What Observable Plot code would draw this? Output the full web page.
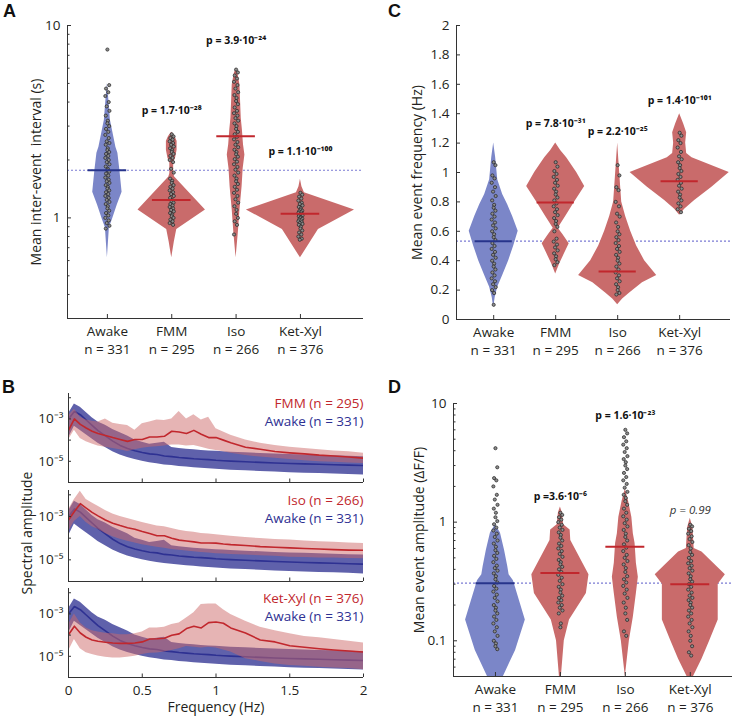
<!DOCTYPE html>
<html>
<head>
<meta charset="utf-8">
<script src="https://cdn.jsdelivr.net/npm/d3@7"></script>
<script src="https://cdn.jsdelivr.net/npm/@observablehq/plot@0.6"></script>
<style>
  body { margin: 0; background: #fff; }
  #fig { position: relative; width: 733px; height: 716px; background: #fff; overflow: hidden; }
  #fig svg { position: absolute; }
  .letter { position: absolute; font: bold 18px 'Liberation Sans', Arial, sans-serif; color: #111; line-height: 18px; }
</style>
</head>
<body>
<div id="fig">
  <div class="letter" style="left:3px;top:2px">A</div>
  <div class="letter" style="left:388px;top:2px">C</div>
  <div class="letter" style="left:2px;top:378px">B</div>
  <div class="letter" style="left:388px;top:378px">D</div>
</div>
<script>
// ---------------- shared categories ----------------
const categories = ["Awake", "FMM", "Iso", "Ket-Xyl"];
const groupSizes = [331, 295, 266, 376];

// ---------------- Panel A: mean inter-event interval (s) ----------------
// violin outlines: [value, half-width in category units]
const intervalShapeAwake = [[5.0,0],[4.09,0.023],[3.22,0.047],[2.33,0.132],[2.17,0.163],[1.77,0.194],[1.36,0.228],[1.17,0.155],[0.98,0.078],[0.89,0.031],[0.62,0]];
const intervalShapeFMM = [[2.79,0],[2.65,0.05],[2.5,0.083],[2.25,0.083],[2.05,0.06],[1.93,0.03],[1.7,0.03],[1.63,0.045],[1.10,0.524],[0.87,0.078],[0.75,0.04],[0.62,0]];
const intervalShapeIso = [[5.98,0],[5.6,0.03],[4.9,0.06],[4.0,0.07],[3.3,0.08],[2.86,0.098],[2.4,0.115],[2.12,0.137],[1.8,0.11],[1.45,0.093],[1.1,0.06],[0.84,0.035],[0.62,0]];
const intervalShapeKet = [[1.59,0],[1.45,0.023],[1.35,0.062],[1.10,0.84],[0.87,0.28],[0.62,0]];
const intervalDotsAwake = [7.5,4.9,4.7,4.5,4.3,4.0,3.8,3.6,3.4,3.2,3.1,3.0,2.9,2.8,2.7,2.6,2.5,2.45,2.4,2.3,2.25,2.2,2.15,2.1,2.05,2.0,1.95,1.9,1.85,1.8,1.77,1.74,1.7,1.66,1.62,1.58,1.55,1.52,1.48,1.45,1.42,1.39,1.36,1.33,1.3,1.27,1.24,1.21,1.18,1.15,1.12,1.09,1.06,1.03,1.0,0.97,0.94,0.91,0.88];
const intervalDotsFMM = [2.72,2.65,2.6,2.55,2.5,2.45,2.4,2.35,2.3,2.25,2.2,2.15,2.1,2.05,2.0,1.95,1.8,1.72,1.6,1.56,1.52,1.48,1.45,1.42,1.39,1.36,1.33,1.3,1.27,1.24,1.22,1.2,1.18,1.16,1.14,1.12,1.1,1.08,1.06,1.04,1.02,1.0,0.98,0.96,0.94,0.92];
const intervalDotsIso = [5.9,5.7,5.5,5.3,5.1,4.9,4.7,4.5,4.35,4.2,4.05,3.9,3.75,3.6,3.5,3.4,3.3,3.2,3.1,3.0,2.9,2.8,2.72,2.64,2.56,2.48,2.4,2.33,2.26,2.2,2.14,2.08,2.02,1.96,1.9,1.84,1.78,1.72,1.66,1.6,1.55,1.5,1.45,1.4,1.35,1.3,1.25,1.2,1.15,1.1,1.05,1.0,0.96,0.92,0.82];
const intervalDotsKet = [1.35,1.32,1.29,1.26,1.23,1.2,1.18,1.16,1.14,1.12,1.1,1.09,1.08,1.07,1.06,1.05,1.04,1.03,1.02,1.01,1.0,0.99,0.98,0.97,0.96,0.95,0.94,0.93,0.92,0.9,0.88,0.86,0.84,0.82,0.8,0.78,0.77];
const intervalMedians = [1.77, 1.24, 2.66, 1.05];
const intervalReference = 1.77;
const intervalPValues = ["", "p = 1.7·10⁻²⁸", "p = 3.9·10⁻²⁴", "p = 1.1·10⁻¹⁰⁰"];
const intervalPValueY = [null, 3.63, 8.36, 2.22];
const intervalTicks = [1, 10];
const intervalMinorTicks = [0.3,0.4,0.5,0.6,0.7,0.8,0.9,2,3,4,5,6,7,8,9];

// ---------------- Panel C: mean event frequency (Hz) ----------------
const freqShapeAwake = [[1.2,0],[1.1,0.032],[0.95,0.065],[0.85,0.145],[0.78,0.226],[0.7,0.306],[0.6,0.395],[0.5,0.323],[0.4,0.242],[0.3,0.145],[0.22,0.065],[0.15,0.024],[0.08,0]];
const freqShapeFMM = [[1.2,0],[1.15,0.08],[1.1,0.177],[1.0,0.339],[0.905,0.468],[0.8,0.306],[0.7,0.161],[0.62,0.04],[0.58,0.113],[0.515,0.218],[0.45,0.145],[0.38,0.065],[0.31,0]];
const freqShapeIso = [[1.2,0],[1.0,0.032],[0.8,0.065],[0.7,0.129],[0.6,0.21],[0.5,0.306],[0.4,0.435],[0.3,0.63],[0.25,0.4],[0.18,0.194],[0.14,0.08],[0.1,0]];
const freqShapeKet = [[1.4,0],[1.33,0.065],[1.27,0.113],[1.2,0.097],[1.13,0.113],[1.1,0.2],[1.0,0.8],[0.9,0.52],[0.81,0.242],[0.75,0.08],[0.71,0]];
const freqDotsAwake = [1.07,1.05,0.98,0.96,0.93,0.9,0.87,0.84,0.81,0.78,0.76,0.74,0.72,0.7,0.68,0.66,0.64,0.62,0.6,0.58,0.56,0.54,0.52,0.5,0.48,0.46,0.44,0.42,0.4,0.38,0.36,0.34,0.32,0.3,0.28,0.26,0.24,0.22,0.2,0.18,0.1];
const freqDotsFMM = [1.07,1.04,1.01,0.99,0.97,0.95,0.93,0.91,0.89,0.87,0.85,0.83,0.81,0.79,0.77,0.75,0.73,0.71,0.69,0.67,0.65,0.63,0.6,0.55,0.53,0.51,0.49,0.47,0.45,0.43,0.41,0.39,0.37];
const freqDotsIso = [1.05,0.98,0.9,0.88,0.8,0.77,0.72,0.7,0.66,0.63,0.6,0.58,0.56,0.54,0.52,0.5,0.48,0.46,0.44,0.42,0.4,0.38,0.36,0.34,0.32,0.3,0.28,0.26,0.24,0.22,0.2,0.18,0.17];
const freqDotsKet = [1.27,1.25,1.22,1.2,1.17,1.14,1.11,1.09,1.07,1.05,1.03,1.01,0.99,0.97,0.95,0.93,0.91,0.89,0.87,0.85,0.83,0.81,0.79,0.77,0.75,0.73];
const freqMedians = [0.533, 0.796, 0.327, 0.94];
const freqReference = 0.533;
const freqPValues = ["", "p = 7.8·10⁻³¹", "p = 2.2·10⁻²⁵", "p = 1.4·10⁻¹⁰¹"];
const freqPValueY = [null, 1.333, 1.28, 1.49];
const freqTicks = [0,0.2,0.4,0.6,0.8,1,1.2,1.4,1.6,1.8,2];

// ---------------- Panel D: mean event amplitude (dF/F) ----------------
const ampShapeAwake = [[0.95,0],[0.81,0.077],[0.58,0.14],[0.42,0.19],[0.36,0.21],[0.32,0.277],[0.15,0.46],[0.083,0.31],[0.05,0.123],[0.035,0]];
const ampShapeFMM = [[1.34,0],[1.2,0.03],[0.95,0.05],[0.86,0.15],[0.7,0.16],[0.36,0.44],[0.25,0.4],[0.15,0.14],[0.1,0.06],[0.05,0.015],[0.04,0]];
const ampShapeIso = [[1.9,0],[1.5,0.05],[1.1,0.1],[0.8,0.123],[0.66,0.15],[0.45,0.17],[0.344,0.2],[0.25,0.17],[0.158,0.123],[0.1,0.062],[0.05,0]];
const ampShapeKet = [[1.08,0],[0.9,0.04],[0.6,0.06],[0.56,0.18],[0.36,0.54],[0.3,0.43],[0.15,0.43],[0.1,0.3],[0.07,0.18],[0.05,0.05],[0.045,0]];
const ampDotsAwake = [4.2,2.9,2.35,2.25,2.0,1.7,1.55,1.4,1.3,1.2,1.1,1.02,0.96,0.9,0.85,0.8,0.75,0.7,0.66,0.62,0.58,0.55,0.52,0.49,0.46,0.43,0.41,0.39,0.37,0.35,0.33,0.31,0.29,0.275,0.26,0.245,0.23,0.215,0.2,0.19,0.18,0.17,0.16,0.15,0.14,0.13,0.12,0.11,0.1,0.095,0.09,0.085];
const ampDotsFMM = [1.2,1.15,1.1,1.05,1.0,0.95,0.9,0.86,0.82,0.78,0.74,0.7,0.66,0.63,0.6,0.57,0.54,0.51,0.48,0.46,0.44,0.42,0.4,0.38,0.36,0.34,0.32,0.3,0.285,0.27,0.255,0.24,0.23,0.22,0.21,0.2,0.19,0.18,0.17,0.14,0.13];
const ampDotsIso = [6.0,5.6,5.2,4.8,4.5,4.2,3.9,3.6,3.4,3.2,3.0,2.8,2.6,2.4,2.25,2.1,1.95,1.8,1.7,1.6,1.5,1.4,1.3,1.2,1.12,1.05,0.98,0.92,0.86,0.8,0.75,0.7,0.65,0.61,0.57,0.53,0.5,0.47,0.44,0.41,0.38,0.35,0.33,0.31,0.29,0.27,0.25,0.23,0.21,0.19,0.17,0.15,0.12,0.11];
const ampDotsKet = [0.95,0.92,0.88,0.84,0.8,0.76,0.72,0.68,0.64,0.6,0.56,0.53,0.5,0.47,0.45,0.43,0.41,0.39,0.37,0.35,0.33,0.315,0.3,0.285,0.27,0.255,0.24,0.23,0.22,0.21,0.2,0.19,0.18,0.17,0.16,0.15,0.14,0.13,0.12,0.11,0.1,0.09,0.08,0.075];
const ampMedians = [0.306, 0.372, 0.62, 0.30];
const ampReference = 0.306;
const ampPValues = ["", "p =3.6·10⁻⁶", "p = 1.6·10⁻²³", "p = 0.99"];
const ampPValueY = [null, 1.63, 7.84, 1.26];
const ampTicks = [0.1, 1, 10];
const ampMinorTicks = [0.05,0.06,0.07,0.08,0.09,0.2,0.3,0.4,0.5,0.6,0.7,0.8,0.9,2,3,4,5,6,7,8,9];

// ---------------- Panel B: spectral amplitude (log10 values) ----------------
const freqHz = [0,0.04,0.08,0.12,0.16,0.2,0.25,0.3,0.35,0.4,0.45,0.5,0.55,0.6,0.65,0.7,0.75,0.8,0.85,0.9,0.95,1.0,1.05,1.1,1.2,1.3,1.4,1.5,1.6,1.7,1.8,1.9,2.0];
const awakeMeanLog = [-3.0,-2.65,-2.8,-3.05,-3.3,-3.55,-3.8,-4.05,-4.25,-4.4,-4.5,-4.58,-4.65,-4.68,-4.75,-4.78,-4.82,-4.85,-4.88,-4.9,-4.92,-4.95,-4.97,-4.99,-5.02,-5.05,-5.08,-5.1,-5.12,-5.14,-5.16,-5.18,-5.2];
const awakeHiLog = [-2.75,-2.3,-2.45,-2.7,-2.95,-3.15,-3.3,-3.5,-3.65,-3.8,-4.0,-4.1,-4.2,-4.15,-4.1,-4.35,-4.4,-4.43,-4.46,-4.49,-4.51,-4.53,-4.55,-4.57,-4.6,-4.63,-4.66,-4.68,-4.7,-4.72,-4.74,-4.76,-4.78];
const awakeLoLog = [-3.9,-3.35,-3.55,-3.75,-3.95,-4.15,-4.35,-4.55,-4.7,-4.82,-4.92,-5.0,-5.07,-5.12,-5.17,-5.2,-5.24,-5.27,-5.3,-5.33,-5.35,-5.38,-5.4,-5.42,-5.45,-5.48,-5.51,-5.54,-5.56,-5.58,-5.6,-5.62,-5.65];
const fmmMeanLog = [-3.54,-3.0,-3.26,-3.43,-3.58,-3.69,-3.78,-3.88,-3.97,-4.06,-3.97,-3.97,-3.85,-3.85,-3.82,-3.58,-3.62,-3.69,-3.54,-3.72,-3.88,-3.88,-4.0,-4.12,-4.34,-4.43,-4.54,-4.6,-4.65,-4.71,-4.75,-4.8,-4.85];
const fmmHiLog = [-2.85,-2.54,-2.92,-3.05,-3.11,-3.15,-3.0,-3.2,-3.26,-3.31,-3.54,-3.23,-3.15,-3.05,-3.08,-3.0,-2.65,-3.0,-2.8,-3.05,-2.92,-3.46,-3.62,-3.77,-4.0,-4.15,-4.25,-4.34,-4.4,-4.46,-4.51,-4.55,-4.62];
const fmmLoLog = [-4.0,-3.54,-3.92,-4.08,-4.18,-4.28,-4.34,-4.4,-4.46,-4.54,-4.46,-4.38,-4.34,-4.31,-4.28,-4.23,-4.23,-4.28,-4.25,-4.34,-4.43,-4.49,-4.55,-4.62,-4.72,-4.8,-4.86,-4.92,-4.97,-5.02,-5.05,-5.08,-5.1];
const isoMeanLog = [-3.16,-2.77,-2.41,-2.61,-2.81,-2.97,-3.16,-3.31,-3.42,-3.52,-3.59,-3.69,-3.78,-3.89,-3.89,-4.0,-4.09,-4.13,-4.17,-4.22,-4.22,-4.23,-4.27,-4.3,-4.34,-4.39,-4.42,-4.45,-4.48,-4.5,-4.53,-4.55,-4.56];
const isoHiLog = [-2.69,-2.22,-1.83,-2.22,-2.38,-2.53,-2.72,-2.88,-3.0,-3.09,-3.19,-3.28,-3.36,-3.44,-3.47,-3.55,-3.63,-3.69,-3.73,-3.78,-3.81,-3.84,-3.88,-3.91,-3.97,-4.02,-4.06,-4.09,-4.13,-4.16,-4.19,-4.22,-4.25];
const isoLoLog = [-3.7,-3.23,-3.0,-3.28,-3.47,-3.59,-3.78,-3.94,-4.05,-4.14,-4.22,-4.3,-4.36,-4.42,-4.47,-4.52,-4.56,-4.59,-4.63,-4.66,-4.69,-4.72,-4.73,-4.75,-4.78,-4.81,-4.84,-4.88,-4.89,-4.91,-4.92,-4.94,-4.95];
const ketMeanLog = [-3.98,-3.58,-3.9,-4.1,-4.23,-4.29,-4.34,-4.37,-4.39,-4.39,-4.37,-4.32,-4.18,-4.17,-4.15,-4.01,-3.94,-3.69,-3.58,-3.66,-3.41,-3.38,-3.44,-3.66,-3.9,-4.23,-4.32,-4.5,-4.57,-4.64,-4.7,-4.75,-4.8];
const ketHiLog = [-3.5,-3.0,-3.43,-3.66,-3.79,-3.85,-3.91,-3.94,-3.98,-3.98,-3.94,-3.85,-3.66,-3.66,-3.63,-3.5,-3.43,-3.19,-2.95,-2.56,-2.53,-2.53,-2.8,-3.03,-3.35,-3.63,-3.79,-3.94,-4.06,-4.13,-4.21,-4.29,-4.37];
const ketLoLog = [-4.76,-4.21,-4.64,-4.83,-4.92,-4.98,-5.05,-5.08,-5.08,-5.05,-5.0,-4.92,-4.86,-4.84,-4.8,-4.73,-4.64,-4.54,-4.57,-4.61,-4.57,-4.61,-4.7,-4.8,-5.11,-5.24,-5.36,-5.43,-5.47,-5.52,-5.55,-5.58,-5.63];
const spectrumFreqTicks = [0, 0.5, 1, 1.5, 2];
const spectrumDecadeTicks = [1e-2, 1e-3, 1e-4, 1e-5, 1e-6];
const spectrumTickLabels = {"-3": "10⁻³", "-5": "10⁻⁵"};

// ---------------- styles ----------------
const FONT = "'Open Sans', 'Liberation Sans', Arial, sans-serif";
const BLUE_FILL = "#7b86c8", RED_FILL = "#c96b6b", NAVY = "#27348b", DARKRED = "#c1272d", REF = "#7b7bd4";
const AXIS = "#333333", TEXT = "#231f20";
const JIT = [0, 0.028, -0.021, 0.014, -0.032, 0.021, -0.01, 0.032, -0.025, 0.007];
const catLabels = categories.map((c, i) => `${c}\nn = ${groupSizes[i]}`);
const fig = document.getElementById("fig");

function place(svg, left, top) {
  svg.style.left = left + "px";
  svg.style.top = top + "px";
  fig.appendChild(svg);
}

function violinPlot(cfg) {
  const [mt, mr, mb, ml] = cfg.margins;
  const area = [];
  cfg.shapes.forEach((s, i) => s.forEach(([v, w]) => area.push({g: i, c: i + 1, v, w})));
  const pts = [];
  cfg.dots.forEach((arr, i) => arr.forEach((v, j) => pts.push({g: i, c: i + 1, v, j})));
  const meds = cfg.medians.map((m, i) => ({m, c: i + 1}));
  const ps = cfg.pTexts.map((t, i) => ({t, c: i + 1, y: cfg.pY[i], it: i === cfg.italicIndex})).filter(d => d.t);
  return Plot.plot({
    width: cfg.width, height: cfg.height,
    marginTop: mt, marginRight: mr, marginBottom: mb, marginLeft: ml,
    style: {fontFamily: FONT, fontSize: "13.5px", color: TEXT, background: "transparent", overflow: "visible"},
    x: {domain: cfg.xDomain, axis: null},
    y: {type: cfg.yType, domain: cfg.yDomain, axis: null},
    marks: [
      Plot.ruleY([cfg.ref], {stroke: REF, strokeWidth: 1.1, strokeDasharray: "2,2"}),
      Plot.areaX(area, {y: "v", x1: d => d.c - d.w, x2: d => d.c + d.w, z: "g", fill: d => d.g === 0 ? BLUE_FILL : RED_FILL, clip: true}),
      Plot.dot(pts, {x: d => d.c + JIT[d.j % JIT.length], y: "v", r: 1.6, fill: "#8c8c8c", stroke: "#222", strokeWidth: 0.7}),
      Plot.ruleY(meds, {y: "m", x1: d => d.c - 0.3, x2: d => d.c + 0.3, stroke: d => d.c === 1 ? NAVY : DARKRED, strokeWidth: 2}),
      Plot.text(ps.filter(d => !d.it), {x: "c", y: "y", text: "t", fontWeight: "bold", fontSize: 10.5, fill: "#111"}),
      Plot.text(ps.filter(d => d.it), {x: "c", y: "y", text: "t", fontStyle: "italic", fontSize: 11.5, fill: "#333"}),
      Plot.axisY(cfg.ticks, {tickSize: -4, tickPadding: 11, tickFormat: cfg.tickFormat, label: null, fontSize: 13.5, stroke: AXIS}),
      cfg.minorTicks ? Plot.axisY(cfg.minorTicks, {tickSize: -2.5, tickFormat: () => "", label: null, stroke: AXIS}) : null,
      Plot.axisX([1, 2, 3, 4], {tickSize: -4, tickPadding: 9, tickFormat: i => catLabels[i - 1], label: null, lineHeight: 1.3, fontSize: 13.5, stroke: AXIS}),
      Plot.ruleX([cfg.xDomain[0]], {stroke: AXIS, strokeWidth: 1}),
      Plot.ruleY([cfg.yDomain[0]], {stroke: AXIS, strokeWidth: 1}),
      Plot.text([cfg.label], {frameAnchor: "left", textAnchor: "middle", lineAnchor: "middle", rotate: -90, dx: cfg.labelDx, fontSize: 14, fill: TEXT})
    ]
  });
}

// Panel A
place(violinPlot({
  width: 370, height: 360, margins: [25, 7, 42, 67],
  xDomain: [0.38, 4.98], yType: "log", yDomain: [0.3, 10],
  shapes: [intervalShapeAwake, intervalShapeFMM, intervalShapeIso, intervalShapeKet],
  dots: [intervalDotsAwake, intervalDotsFMM, intervalDotsIso, intervalDotsKet],
  medians: intervalMedians, ref: intervalReference,
  pTexts: intervalPValues, pY: intervalPValueY, italicIndex: -1,
  ticks: intervalTicks, tickFormat: d => String(d), minorTicks: intervalMinorTicks,
  label: "Mean inter-event  interval (s)", labelDx: -31
}), 0, 0);

// Panel C
place(violinPlot({
  width: 363, height: 360, margins: [25, 3, 41, 86],
  xDomain: [0.4, 4.82], yType: "linear", yDomain: [0, 2],
  shapes: [freqShapeAwake, freqShapeFMM, freqShapeIso, freqShapeKet],
  dots: [freqDotsAwake, freqDotsFMM, freqDotsIso, freqDotsKet],
  medians: freqMedians, ref: freqReference,
  pTexts: freqPValues, pY: freqPValueY, italicIndex: -1,
  ticks: freqTicks, tickFormat: d => String(Math.round(d * 10) / 10), minorTicks: null,
  label: "Mean event frequency (Hz)", labelDx: -39
}), 370, 0);

// Panel D
place(violinPlot({
  width: 363, height: 356, margins: [43, 1, 40, 83],
  xDomain: [0.354, 4.65], yType: "log", yDomain: [0.05, 10],
  shapes: [ampShapeAwake, ampShapeFMM, ampShapeIso, ampShapeKet],
  dots: [ampDotsAwake, ampDotsFMM, ampDotsIso, ampDotsKet],
  medians: ampMedians, ref: ampReference,
  pTexts: ampPValues, pY: ampPValueY, italicIndex: 3,
  ticks: ampTicks, tickFormat: d => String(d), minorTicks: ampMinorTicks,
  label: "Mean event amplitude (ΔF/F)", labelDx: -34
}), 370, 360);

// Panel B
function spectrumPlot(cfg) {
  const rows = freqHz.map((f, i) => ({
    f,
    am: 10 ** awakeMeanLog[i], ah: 10 ** awakeHiLog[i], al: 10 ** awakeLoLog[i],
    dm: 10 ** cfg.mean[i], dh: 10 ** cfg.hi[i], dl: 10 ** cfg.lo[i]
  }));
  const yDomain = [1e-6, 10 ** -1.8];
  return Plot.plot({
    width: 370, height: cfg.height,
    marginTop: cfg.mt, marginRight: 7, marginBottom: cfg.mb, marginLeft: 68,
    style: {fontFamily: FONT, fontSize: "13.5px", color: TEXT, background: "transparent", overflow: "visible"},
    x: {domain: [0, 2], axis: null},
    y: {type: "log", domain: yDomain, axis: null},
    marks: [
      Plot.areaY(rows, {x: "f", y1: "al", y2: "ah", fill: "#5f61ab", clip: true}),
      Plot.line(rows, {x: "f", y: "am", stroke: "#2e3192", strokeWidth: 1.6, clip: true}),
      Plot.areaY(rows, {x: "f", y1: "dl", y2: "dh", fill: "#cd6a6a", fillOpacity: 0.5, clip: true}),
      Plot.line(rows, {x: "f", y: "dm", stroke: DARKRED, strokeWidth: 1.6, clip: true}),
      Plot.text([`${cfg.name} (n = ${cfg.n})`], {frameAnchor: "top-right", dy: 10, textAnchor: "end", lineAnchor: "middle", fill: DARKRED, fontSize: 13.5}),
      Plot.text([`${categories[0]} (n = ${groupSizes[0]})`], {frameAnchor: "top-right", dy: 28, textAnchor: "end", lineAnchor: "middle", fill: "#2e3192", fontSize: 13.5}),
      Plot.axisY(spectrumDecadeTicks, {tickSize: -3, tickPadding: 8, label: null, stroke: AXIS, fontSize: 13.5,
        tickFormat: d => spectrumTickLabels[String(Math.round(Math.log10(d)))] ?? ""}),
      Plot.axisX(spectrumFreqTicks, {tickSize: -3.5, tickPadding: 11, label: null, stroke: AXIS, fontSize: 13.5,
        tickFormat: cfg.showX ? (d => String(d)) : (() => "")}),
      Plot.ruleX([0], {stroke: AXIS}),
      Plot.ruleY([yDomain[0]], {stroke: AXIS}),
      cfg.yLabel ? Plot.text([cfg.yLabel], {frameAnchor: "left", textAnchor: "middle", lineAnchor: "middle", rotate: -90, dx: -41, dy: -3, fontSize: 14, fill: TEXT}) : null,
      cfg.xLabel ? Plot.text([cfg.xLabel], {frameAnchor: "bottom", lineAnchor: "middle", dy: 30, fontSize: 14, fill: TEXT}) : null
    ]
  });
}

place(spectrumPlot({mean: fmmMeanLog, hi: fmmHiLog, lo: fmmLoLog, name: categories[1], n: groupSizes[1], height: 99, mt: 5, mb: 5, showX: false}), 0, 388);
place(spectrumPlot({mean: isoMeanLog, hi: isoHiLog, lo: isoLoLog, name: categories[2], n: groupSizes[2], height: 101, mt: 5, mb: 5, showX: false, yLabel: "Spectral amplitude"}), 0, 485);
place(spectrumPlot({mean: ketMeanLog, hi: ketHiLog, lo: ketLoLog, name: categories[3], n: groupSizes[3], height: 133, mt: 5, mb: 39, showX: true, xLabel: "Frequency (Hz)"}), 0, 583);
</script>
</body>
</html>
